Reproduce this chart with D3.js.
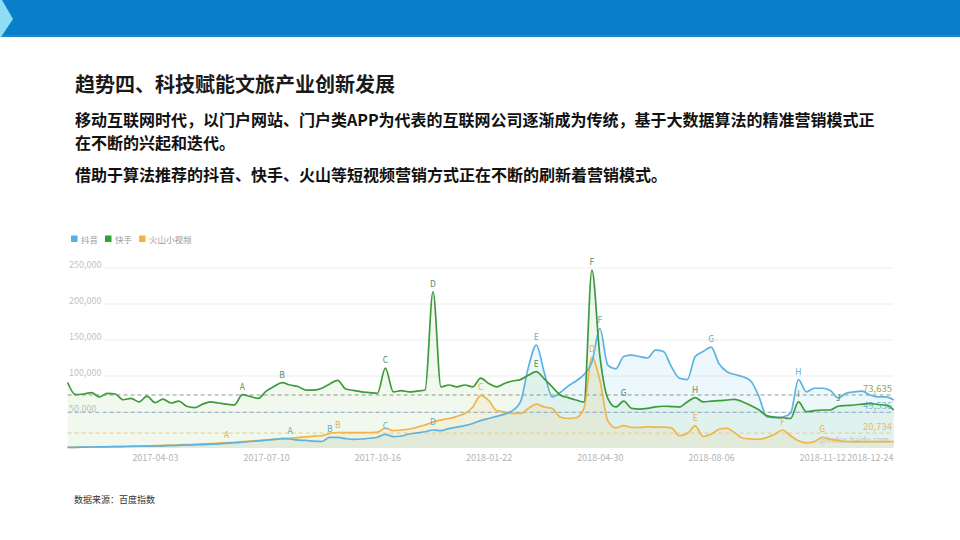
<!DOCTYPE html>
<html><head><meta charset="utf-8">
<script src="https://cdn.jsdelivr.net/npm/d3@7"></script>
<style>body{margin:0;background:#fff}svg{display:block}</style>
</head><body>
<svg id="c" width="960" height="540"></svg>
<script>
// ---------- data ----------
const titleText = "趋势四、科技赋能文旅产业创新发展";
const paragraphLines = [
  "移动互联网时代，以门户网站、门户类APP为代表的互联网公司逐渐成为传统，基于大数据算法的精准营销模式正",
  "在不断的兴起和迭代。",
  "借助于算法推荐的抖音、快手、火山等短视频营销方式正在不断的刷新着营销模式。"
];
const sourceText = "数据来源：百度指数";
const seriesNames = ["抖音", "快手", "火山小视频"];
const firstWeek = "2017-01-16";
const lastWeek = "2019-01-14";
const xTickDates = ["2017-04-03","2017-07-10","2017-10-16","2018-01-22","2018-04-30","2018-08-06","2018-11-12","2018-12-24"];
const yTicks = [50, 100, 150, 200, 250]; // thousands
const yTickLabels = ["50,000","100,000","150,000","200,000","250,000"];
// weekly search index, thousands
const douyin = [1,1,1.2,1.4,1.5,1.7,1.8,2,2.2,2.4,
  2.6,2.8,3,3.3,3.6,4,4.4,4.8,5.3,5.8,
  6.5,7.3,8,9,10,11,12,13,12.5,11,
  10.5,9.5,9,14.8,14.8,13,12,12.5,13.5,15,
  19,15.7,16.7,19.4,21,22.6,25,24,27,29,
  31,34,38,41,44,47,52,64,112,143,
  105,71,77,86,93,102,119,166,115,110,
  127,129,127,125,136,134,113,97,95,127,
  134,140,117,106,102,99,93,72,43.5,42,
  43,48,95,78,83,83,80,69.5,76,78,
  79,73.6,71,71,66.7];
const kuaishou = [91,74,75,77,71,76,75,67,69,64,
  72,63,68,62.5,65,58,56,61,64,62.5,
  61,60,74,71.5,69,79,85.5,90.7,87.5,85.5,
  80.5,80.5,83,89,94,82,80,78,77,76,
  111,78,79.6,78,79,80.5,217,85,87.5,85,
  87.5,85,97,89.6,85,89.6,93,95,101,106,
  96,85,73.6,70,66.7,64,247,128,69,57,
  65,55,54,55,57,58,57.6,57,64,70,
  64,65,65.7,66.7,67.6,64,59,53,45,43,
  42,41,64,50.4,52,52.8,52.8,58,59,59.7,
  61,62,60.4,59.7,52.8];
const huoshan = [1,1,1.2,1.4,1.6,1.8,2,2.2,2.5,2.8,
  3,3.3,3.6,4,4.4,4.8,5.2,5.6,6,6.7,
  7.4,8,8.8,9.5,10.3,11,12,13,13.5,14.5,
  15.5,16.5,17,20.4,21.5,21.3,21.3,21.3,21.5,22,
  27.4,24,25,26.4,29,32,36,39,41,44,
  48,57,73,66,52,50,48,48,55,61,
  57,55,43,41,42,55,126,94,38,28,
  31,28.7,28.5,29.5,29,29,28,17,20,30.6,
  16,19,26,27.4,21,13.5,12.5,12,14.5,19,
  25,17,10,7,8.8,14.9,12,10.5,9,8.8,
  8.8,8.8,8.8,8.8,8.8];
const averages = [49536, 73635, 20734];
const douyinMarks = [[28,"A"],[33,"B"],[40,"C"],[46,"D"],[59,"E"],[67,"F"],[81,"G"],[92,"H"]];
const kuaishouMarks = [[22,"A"],[27,"B"],[40,"C"],[46,"D"],[59,"E"],[66,"F"],[70,"G"],[79,"H"],[92,"I"],[97,"J"]];
const huoshanMarks = [[20,"A"],[34,"B"],[52,"C"],[66,"D"],[79,"E"],[90,"F"],[95,"G"]];
const watermark = "@index.baidu.com";

// ---------- drawing ----------
const svg = d3.select("#c");
const CJK = "'Noto Sans CJK SC','Noto Sans',sans-serif";
const parse = d3.timeParse("%Y-%m-%d");
const weeks = d3.timeMonday.range(parse(firstWeek), d3.timeDay.offset(parse(lastWeek), 1));
const values = [douyin, kuaishou, huoshan];
const marks = [douyinMarks, kuaishouMarks, huoshanMarks];
const lineColors = ["#5cb3e0", "#3d9b3d", "#f0b447"];
const fillColors = ["#5cc0e6", "#7cc46a", "#f0c46a"];
const fillOpac = [0.11, 0.11, 0.14];
const legendColors = ["#4fb3e4", "#2ea52e", "#f2b440"];
const letterColors = ["#62acd6", "#5f8a5c", "#e9ae4c"];
const avgLineColors = ["#8fa9c8", "#8d9a86", "#ecc783"];
const avgTextColors = ["#6cb6d8", "#93a65c", "#f0b955"];

// header bar
svg.append("rect").attr("x",0).attr("y",0).attr("width",960).attr("height",37).attr("fill","#0a7fc9");
svg.append("rect").attr("x",0).attr("y",35).attr("width",960).attr("height",2).attr("fill","#2087c6");
svg.append("path").attr("d","M0,0 L2,0 L13,19 L1,37 L0,37 Z").attr("fill","#8fdcf5");

// texts
svg.append("text").attr("x",75).attr("y",92).text(titleText)
  .attr("font-family",CJK).attr("font-size",20).attr("font-weight","bold").attr("fill","#1a1a1a");
const lineYs = [126, 149, 181];
paragraphLines.forEach((t,i)=>{
  svg.append("text").attr("x",75).attr("y",lineYs[i]).text(t)
    .attr("font-family",CJK).attr("font-size",16).attr("font-weight","bold").attr("fill","#111");
});
svg.append("text").attr("x",74).attr("y",503).text(sourceText)
  .attr("font-family",CJK).attr("font-size",9).attr("fill","#333");

// legend
const lg = svg.append("g");
let lx = 71;
seriesNames.forEach((n,i)=>{
  lg.append("rect").attr("x",lx).attr("y",235.5).attr("width",6.5).attr("height",6.5).attr("fill",legendColors[i]);
  const t = lg.append("text").attr("x",lx+10).attr("y",242.5).text(n)
    .attr("font-family",CJK).attr("font-size",8.5).attr("fill","#999");
  lx += 10 + t.node().getComputedTextLength() + 7;
});

// scales
const x = d3.scaleTime().domain([weeks[0], weeks[weeks.length-1]]).range([67.6, 893.8]);
const y = d3.scaleLinear().domain([0, 250]).range([448, 268]);

// grid
const grid = svg.append("g");
yTicks.forEach((v,i)=>{
  grid.append("line").attr("x1",104).attr("x2",893).attr("y1",y(v)).attr("y2",y(v))
    .attr("stroke","#ececec").attr("stroke-width",1);
  grid.append("text").attr("x",69).attr("y",y(v)).text(yTickLabels[i])
    .attr("font-family",CJK).attr("font-size",9).attr("fill","#c2c2c2");
});

// x axis
const xa = svg.append("g").attr("transform",`translate(0,${y(0)})`)
  .call(d3.axisBottom(x).tickValues(xTickDates.map(parse)).tickFormat(d3.timeFormat("%Y-%m-%d")).tickSize(0).tickPadding(6.6));
xa.select(".domain").remove();
xa.selectAll("text").attr("font-family",CJK).attr("font-size",9).attr("fill","#b3b3b3");

// areas
const area = d3.area().x((d,i)=>x(weeks[i])).y0(y(0)).y1(d=>y(d)).curve(d3.curveMonotoneX);
[1,0,2].forEach(s=>{
  svg.append("path").datum(values[s]).attr("d",area).attr("fill",fillColors[s]).attr("fill-opacity",fillOpac[s]);
});

// watermark (under the lines)
svg.append("text").attr("x",889).attr("y",443).attr("text-anchor","end").text(watermark)
  .attr("font-family",CJK).attr("font-size",8).attr("fill","#b8b8b8").attr("fill-opacity",0.8);

// average lines + labels
averages.forEach((a,s)=>{
  const yy = y(a/1000);
  svg.append("line").attr("x1",67.6).attr("x2",893).attr("y1",yy).attr("y2",yy)
    .attr("stroke",avgLineColors[s]).attr("stroke-width",1).attr("stroke-dasharray","4,3");
  svg.append("text").attr("x",892).attr("y",yy-3).attr("text-anchor","end").text(d3.format(",")(a))
    .attr("font-family",CJK).attr("font-size",9.5).attr("fill",avgTextColors[s]);
});

// lines
const line = d3.line().x((d,i)=>x(weeks[i])).y(d=>y(d)).curve(d3.curveMonotoneX);
[2,0,1].forEach(s=>{
  svg.append("path").datum(values[s]).attr("d",line).attr("fill","none")
    .attr("stroke",lineColors[s]).attr("stroke-width",1.7).attr("stroke-linejoin","round");
});

// annotation letters
marks.forEach((arr,s)=>{
  arr.forEach(([i,l])=>{
    svg.append("text").attr("x",x(weeks[i])).attr("y",y(values[s][i])-5).attr("text-anchor","middle").text(l)
      .attr("font-family",CJK).attr("font-size",8.5).attr("fill",letterColors[s]);
  });
});
</script>
</body></html>
